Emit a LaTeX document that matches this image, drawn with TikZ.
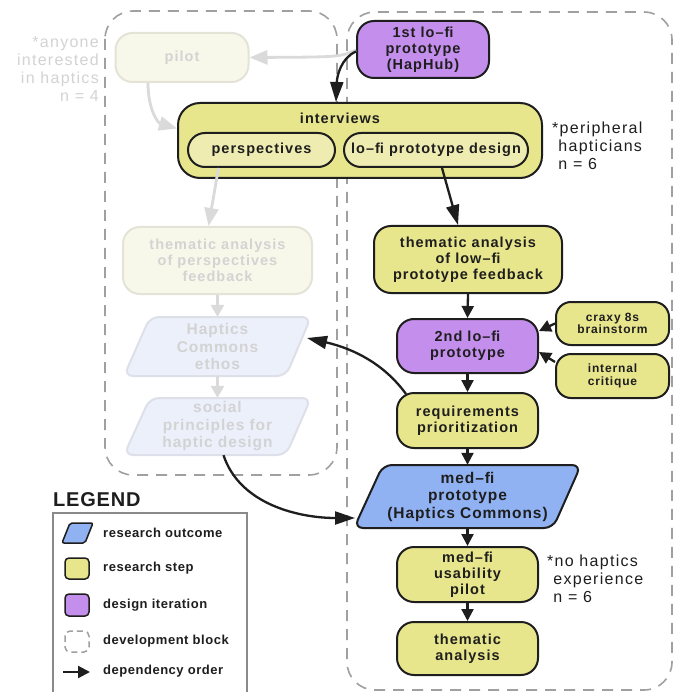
\documentclass[tikz,border=0pt]{standalone}
\usepackage{fontspec}
\setmainfont{Liberation Sans}
\newfontfamily\nodeface[LetterSpace=7]{Liberation Sans}
\newfontfamily\bigface[LetterSpace=6]{Liberation Sans}
\newfontfamily\noteface[LetterSpace=8]{Liberation Sans}
\newfontfamily\legendface[LetterSpace=4]{Liberation Sans}
\newfontfamily\titleface[LetterSpace=4]{Liberation Sans}
\usetikzlibrary{arrows.meta,calc}

\definecolor{stepfill}{HTML}{E8E68C}
\definecolor{subfill}{HTML}{EFECB2}
\definecolor{iterfill}{HTML}{C48EEC}
\definecolor{outfill}{HTML}{90B2F2}
\definecolor{ink}{HTML}{1E1E1E}
\definecolor{blockgray}{HTML}{A0A0A0}
\definecolor{legendgray}{HTML}{8A8A8A}
\definecolor{fadefill}{HTML}{F8F8EA}
\definecolor{fadeline}{HTML}{E3E3D7}
\definecolor{fadeblue}{HTML}{EBF0FB}
\definecolor{fadeblueline}{HTML}{DDE0E8}
\definecolor{fadetext}{HTML}{D3D3D3}
\definecolor{fadearrow}{HTML}{DADADA}

\tikzset{
  txt/.style={font=\nodeface\bfseries\fontsize{14.5}{16}\selectfont, align=center, text=ink, inner sep=0pt},
  bigtxt/.style={font=\bigface\bfseries\fontsize{15.5}{17.5}\selectfont, align=center, text=ink, inner sep=0pt},
  smalltxt/.style={font=\nodeface\bfseries\fontsize{12}{12.5}\selectfont, align=center, text=ink, inner sep=0pt},
  stepbox/.style={txt, draw=ink, line width=2pt, fill=stepfill, rounded corners=17pt},
  iterbox/.style={stepbox, fill=iterfill},
  subbox/.style={stepbox, fill=subfill},
  fadebox/.style={txt, draw=fadeline, line width=2pt, fill=fadefill, rounded corners=17pt, text=fadetext},
  outshape/.style={draw=ink, line width=2pt, fill=outfill, rounded corners=9pt},
  fadeshape/.style={draw=fadeblueline, line width=2pt, fill=fadeblue, rounded corners=9pt},
  blockline/.style={draw=blockgray, line width=1.6pt, dash pattern=on 11pt off 8pt, rounded corners=28pt},
  notetext/.style={font=\noteface\fontsize{16}{18}\selectfont, inner sep=0pt},
  legendtext/.style={font=\legendface\bfseries\fontsize{13}{15}\selectfont, text=ink, inner sep=0pt, anchor=west},
  flow/.style={draw=ink, line width=2.3pt, -{Triangle[length=12pt,width=12pt]}},
  flowlong/.style={draw=ink, line width=2.3pt, -{Triangle[length=20pt,width=13pt]}},
  fadeflow/.style={draw=fadearrow, line width=2.8pt, -{Triangle[length=18pt,width=14pt]}},
  fadeshort/.style={draw=fadearrow, line width=2.8pt, -{Triangle[length=12pt,width=13pt]}},
}

\begin{document}
\begin{tikzpicture}[x=1pt,y=-1pt]
\fill[white] (0,0) rectangle (676,692);
\useasboundingbox (0,0) rectangle (676,692);

% development blocks
\draw[blockline] (105,11) rectangle (337,475);
\draw[blockline] (347,12) rectangle (672,690);

% earlier, faded development block
\node[fadebox, minimum width=133pt, minimum height=49pt] (pilot) at (182,57.5) {pilot};
\node[fadebox, minimum width=189pt, minimum height=67pt] (thper) at (217.5,260.5) {thematic analysis\\of perspectives\\feedback};
\draw[fadeshape] (124,376) -- (150,317) -- (311,317) -- (286,376) -- cycle;
\node[bigtxt, text=fadetext, minimum width=160pt, minimum height=59pt] (ethos) at (217.5,346.5) {Haptics\\Commons\\ethos};
\draw[fadeshape] (124,455) -- (150,398) -- (311,398) -- (286,455) -- cycle;
\node[bigtxt, text=fadetext, minimum width=160pt, minimum height=57pt] (social) at (217.5,426.5) {social\\principles for\\haptic design};

\node[notetext, text=fadetext, anchor=north east, align=right] (noteA) at (99,36) {*anyone\\interested\\in haptics\\n = 4};

% interviews
\node[stepbox, rounded corners=22pt, minimum width=364pt, minimum height=75pt] (intv) at (360,140.5) {};
\node[txt] (intvlabel) at (340,118) {interviews};
\node[subbox, minimum width=147pt, minimum height=34pt] (persp) at (261.5,150) {perspectives};
\node[subbox, minimum width=184pt, minimum height=34pt] (lofid) at (436,150) {lo–ﬁ prototype design};

% main development block
\node[iterbox, minimum width=132pt, minimum height=57pt] (ptype1) at (423,49.5) {1st lo–ﬁ\\prototype\\(HapHub)};
\node[stepbox, minimum width=188pt, minimum height=67pt] (thlo) at (468,259.5) {thematic analysis\\of low–ﬁ\\prototype feedback};
\node[iterbox, minimum width=141pt, minimum height=54pt] (iter2) at (467.5,346) {2nd lo–ﬁ\\prototype};
\node[stepbox, smalltxt, minimum width=113pt, minimum height=43pt, rounded corners=15pt] (craxy) at (612.5,323.5) {craxy 8s\\brainstorm};
\node[stepbox, smalltxt, minimum width=113pt, minimum height=44pt, rounded corners=15pt] (crit) at (612.5,376) {internal\\critique};
\node[stepbox, minimum width=141pt, minimum height=55pt] (reqs) at (467.5,420.5) {requirements\\prioritization};
\draw[outshape] (354,528) -- (383,465) -- (581,465) -- (553,528) -- cycle;
\node[bigtxt, minimum width=200pt, minimum height=63pt] (medfi) at (467.5,496.5) {med–ﬁ\\prototype\\(Haptics Commons)};
\node[stepbox, minimum width=141pt, minimum height=55pt] (usab) at (467.5,574.5) {med–ﬁ\\usability\\pilot};
\node[stepbox, minimum width=141pt, minimum height=53pt] (thfin) at (467.5,648.5) {thematic\\analysis};

\node[notetext, text=ink, anchor=north west, align=left] (noteB) at (552,122) {*peripheral\\\phantom{*}hapticians\\\phantom{*}n = 6};
\node[notetext, text=ink, anchor=north west, align=left] (noteC) at (547,555) {*no haptics\\\phantom{*}experience\\\phantom{*}n = 6};

\coordinate (ethosR) at (307,338);
\coordinate (medfiL) at (355,518);

% faded connectors
\draw[fadeflow] (ptype1.west |- 0,50) .. controls (340,57) .. (pilot.east);
\draw[fadeflow] ($(pilot.south)+(-34,0)$) .. controls (148,110) and (158,123) .. ($(intv.west)+(0,-12)$);
\draw[fadeflow] ($(persp.south)+(-43,0)$) -- ($(thper.north)+(-9,0)$);
\draw[fadeshort] (thper.south) -- (ethos.north);
\draw[fadeshort] (ethos.south) -- (social.north);

% dependency order
\draw[flowlong] ($(ptype1.west)+(0,2)$) .. controls (341,58) and (337,76) .. ($(intv.north)+(-24,0)$);
\draw[flowlong] ($(lofid.south)+(6,0)$) -- ($(thlo.north)+(-10,0)$);
\draw[flow] (thlo.south) -- (iter2.north);
\draw[flow] (craxy.west) -- ($(iter2.east)+(0,-15)$);
\draw[flow] ($(crit.west)+(0,-14)$) -- ($(iter2.east)+(0,6)$);
\draw[flow] (iter2.south) -- (reqs.north);
\draw[flowlong] ($(reqs.north west)+(10,2)$) .. controls (385,365) and (355,349) .. (ethosR);
\draw[flow] (reqs.south) -- (medfi.north);
\draw[flowlong] ($(social.south)+(6,0)$) .. controls (240,505) and (300,518) .. (medfiL);
\draw[flow] (medfi.south) -- (usab.north);
\draw[flow] (usab.south) -- (thfin.north);

% legend
\node[font=\titleface\bfseries\fontsize{20}{24}\selectfont, text=ink, inner sep=0pt, anchor=base west] (legtitle) at (53,506) {LEGEND};
\draw[draw=legendgray, line width=1.2pt] (53,513) rectangle (247,700);
\draw[draw=ink, line width=1.5pt, fill=outfill, rounded corners=2pt] (62,543) -- (70,523) -- (93,523) -- (85,543) -- cycle;
\draw[draw=ink, line width=1.5pt, fill=stepfill, rounded corners=4pt] (65,558) rectangle (89,579);
\draw[draw=ink, line width=1.5pt, fill=iterfill, rounded corners=4pt] (65,594) rectangle (89,616);
\draw[draw=blockgray, line width=1.5pt, dash pattern=on 6pt off 4pt, rounded corners=5pt] (65,631) rectangle (89,652);
\coordinate (legA) at (63,672);
\coordinate (legB) at (90,672);
\draw[flow] (legA) -- (legB);
\node[legendtext] (leg1) at (103,533) {research outcome};
\node[legendtext] (leg2) at (103,568) {research step};
\node[legendtext] (leg3) at (103,605) {design iteration};
\node[legendtext] (leg4) at (103,641) {development block};
\node[legendtext] (leg5) at (103,671) {dependency order};
\end{tikzpicture}
\end{document}
